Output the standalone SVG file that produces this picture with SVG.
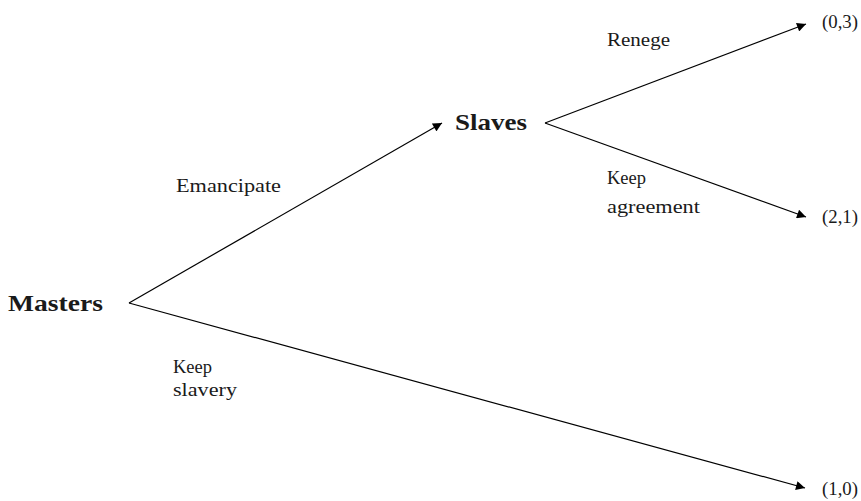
<svg xmlns="http://www.w3.org/2000/svg" width="861" height="501" viewBox="0 0 861 501">
<style>
.n{font-weight:bold;font-size:24px}
.l{font-size:19px}
.e{stroke:#000;stroke-width:1.2;fill:none;marker-end:url(#a)}
</style>
<defs>
<marker id="a" viewBox="0 0 10 10" refX="10" refY="5" markerWidth="10" markerHeight="9" markerUnits="userSpaceOnUse" orient="auto">
<path d="M0,0L10,5L0,10z" fill="#000"/>
</marker>
</defs>
<rect width="861" height="501" fill="#fff"/>
<g id="connectors">
<path class="e" d="M129,303L442,123"/>
<path class="e" d="M129,303L805,488"/>
<path class="e" d="M545,123L806,24"/>
<path class="e" d="M545,123L806,217"/>
</g>
<g font-family="Times New Roman, Liberation Serif, serif" fill="#1a1a1a">
<g id="masters"><text class="n" x="8" y="311" textLength="95" lengthAdjust="spacingAndGlyphs">Masters</text></g>
<g id="slaves"><text class="n" x="455" y="130" textLength="72" lengthAdjust="spacingAndGlyphs">Slaves</text></g>
<g id="payoff03"><text class="l" x="822" y="28" textLength="36" lengthAdjust="spacingAndGlyphs">(0,3)</text></g>
<g id="payoff21"><text class="l" x="822" y="223" textLength="36" lengthAdjust="spacingAndGlyphs">(2,1)</text></g>
<g id="payoff10"><text class="l" x="822" y="495" textLength="36" lengthAdjust="spacingAndGlyphs">(1,0)</text></g>
<g id="labels">
<text class="l" x="176" y="192" textLength="105" lengthAdjust="spacingAndGlyphs">Emancipate</text>
<text class="l" x="173" y="373" textLength="39" lengthAdjust="spacingAndGlyphs">Keep</text>
<text class="l" x="173" y="396" textLength="64" lengthAdjust="spacingAndGlyphs">slavery</text>
<text class="l" x="607" y="46" textLength="63" lengthAdjust="spacingAndGlyphs">Renege</text>
<text class="l" x="607" y="184" textLength="39" lengthAdjust="spacingAndGlyphs">Keep</text>
<text class="l" x="607" y="213" textLength="93" lengthAdjust="spacingAndGlyphs">agreement</text>
</g>
</g>
</svg>
